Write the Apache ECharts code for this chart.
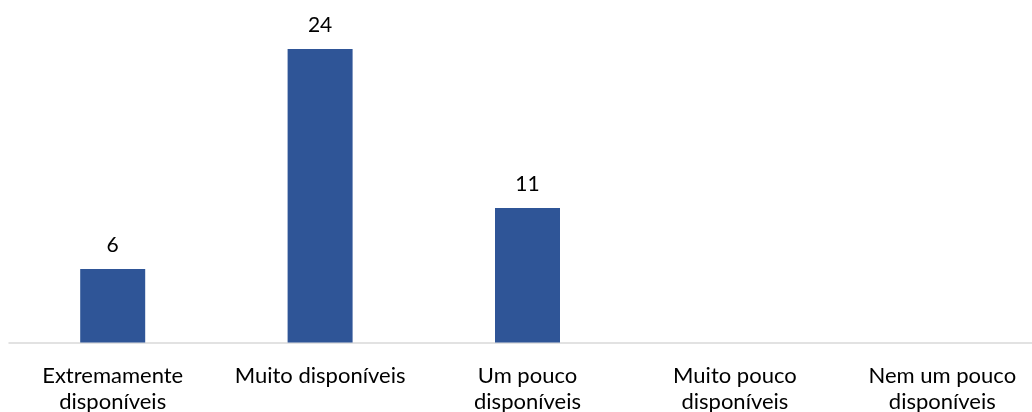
<!DOCTYPE html>
<html>
<head>
<meta charset="utf-8">
<script src="https://cdn.jsdelivr.net/npm/echarts@6/dist/echarts.min.js"></script>
<style>
  html, body { margin: 0; padding: 0; background: #fff; }
  #chart { width: 1032px; height: 412px; }
</style>
</head>
<body>
<div id="chart"></div>
<script>
// Availability categories and response counts
const categories = [
  'Extremamente\ndisponíveis',
  'Muito disponíveis',
  'Um pouco\ndisponíveis',
  'Muito pouco\ndisponíveis',
  'Nem um pouco\ndisponíveis'
];
const counts = [6, 24, 11, null, null];

const chart = echarts.init(document.getElementById('chart'));
chart.setOption({
  animation: false,
  textStyle: { fontFamily: 'Lato, "Noto Sans", sans-serif' },
  grid: {
    left: 9, top: 0, right: -14, bottom: 69.5,
    containLabel: false,
    outerBoundsMode: 'none'
  },
  xAxis: {
    type: 'category',
    data: categories,
    axisLine: { lineStyle: { color: '#d9d9d9', width: 1.5 } },
    axisTick: { show: false },
    axisLabel: {
      color: '#000',
      fontSize: 22,
      lineHeight: 26,
      margin: 20,
      interval: 0
    }
  },
  yAxis: {
    type: 'value',
    min: 0,
    max: 28,
    show: false,
    splitLine: { show: false }
  },
  series: [{
    type: 'bar',
    data: counts,
    barWidth: 65,
    itemStyle: { color: '#2f5597' },
    label: {
      show: true,
      position: 'top',
      distance: 13,
      color: '#000',
      fontSize: 21
    }
  }]
});
</script>
</body>
</html>
